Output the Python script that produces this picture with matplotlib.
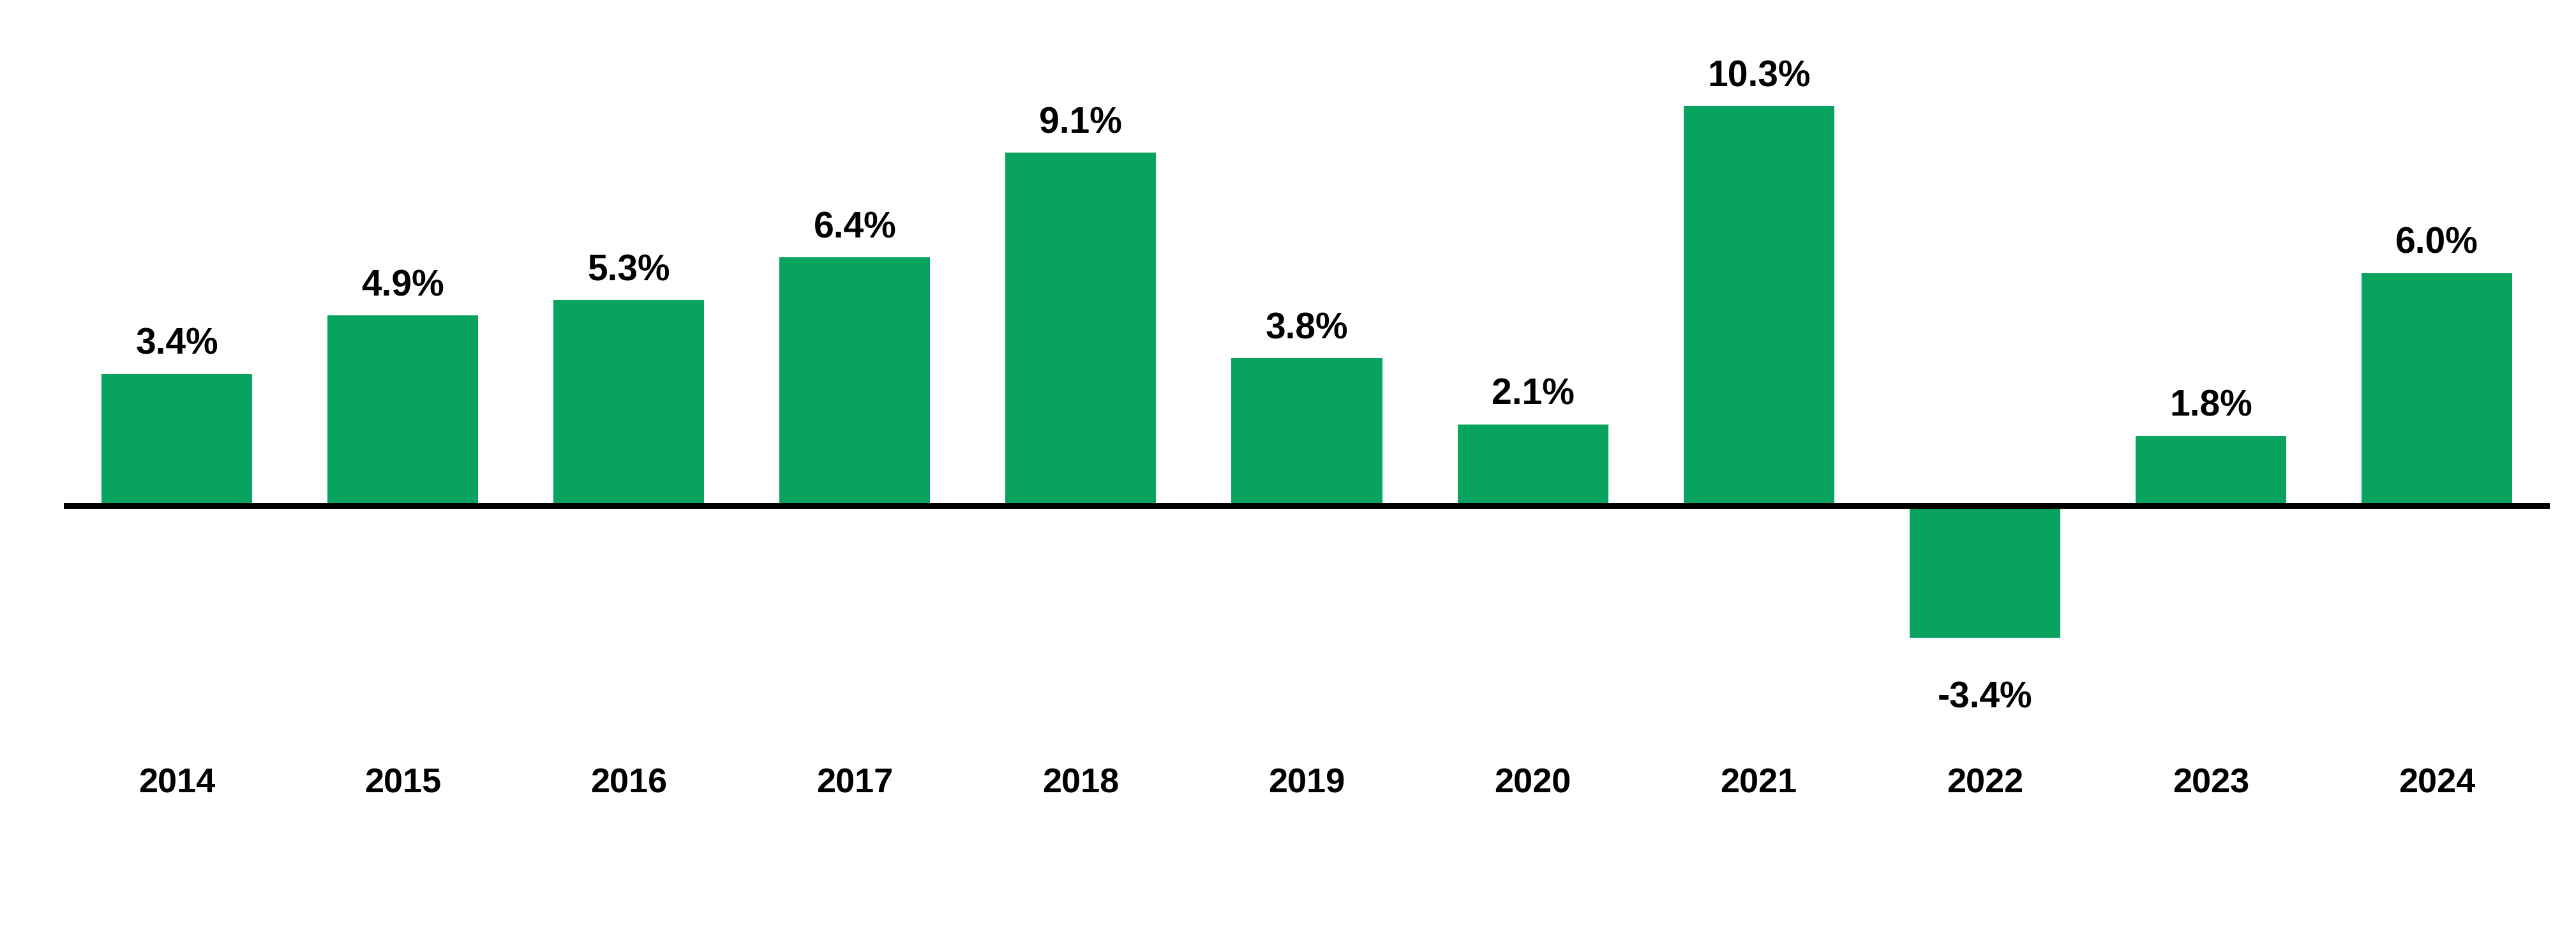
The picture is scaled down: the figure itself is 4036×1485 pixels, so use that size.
import matplotlib
matplotlib.use("Agg")
import matplotlib.pyplot as plt
import matplotlib.transforms as mtransforms

years = ["2014", "2015", "2016", "2017", "2018", "2019", "2020", "2021", "2022", "2023", "2024"]
growth = [3.4, 4.9, 5.3, 6.4, 9.1, 3.8, 2.1, 10.3, -3.4, 1.8, 6.0]

plt.rcParams.update({
    "font.family": ["Liberation Sans", "DejaVu Sans"],
    "font.weight": "bold",
})

fig = plt.figure(figsize=(40.36, 14.85), dpi=100)
ax = fig.add_axes([100 / 4036, 0, 3895 / 4036, 1])

x = list(range(len(years)))
bars = ax.bar(x, growth, width=0.667, color="#07a35f", zorder=2)
ax.axhline(0, color="black", lw=6.5, zorder=3)

ax.set_xlim(-0.5, 10.5)
ax.set_ylim(-11.39, 13.03)
ax.axis("off")

# value labels
for xi, v in zip(x, growth):
    if v >= 0:
        off = 22.3
    else:
        off = -78.5
    ax.annotate(f"{v:.1f}%", (xi, v), xytext=(0, off), textcoords="offset points",
                ha="center", va="baseline", fontsize=41, fontweight="bold")

# year labels under the axis
trans = mtransforms.blended_transform_factory(ax.transData, ax.transAxes)
for xi, yr in zip(x, years):
    ax.text(xi, 1 - 1242 / 1485, yr, transform=trans, ha="center", va="baseline",
            fontsize=39, fontweight="bold")

fig.savefig("out.png", dpi=100, facecolor="white")
